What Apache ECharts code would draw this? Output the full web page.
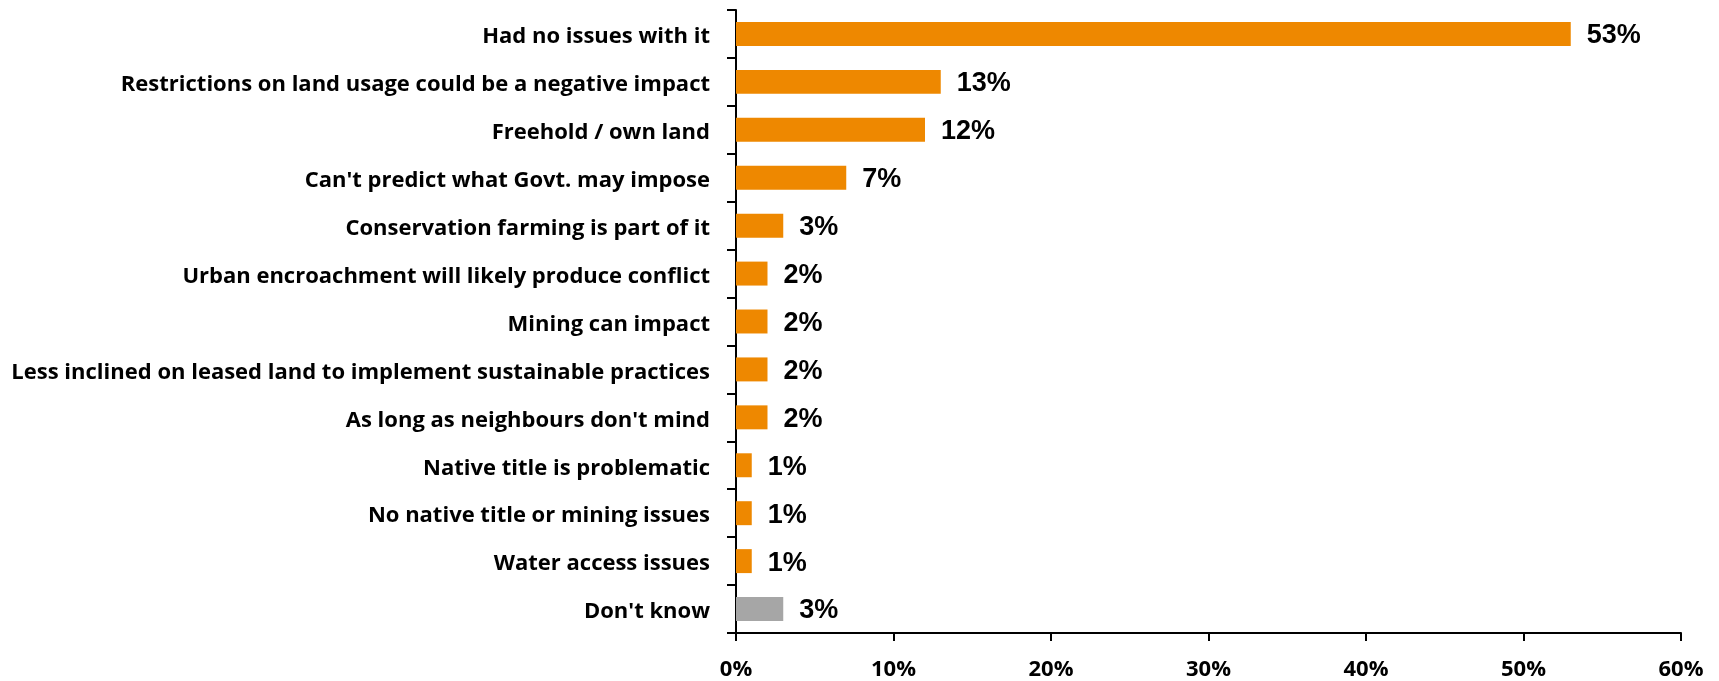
<!DOCTYPE html>
<html>
<head>
<meta charset="utf-8">
<script src="https://cdn.jsdelivr.net/npm/echarts@6/dist/echarts.min.js"></script>
<style>
  html, body { margin: 0; padding: 0; background: #fff; }
  #chart { width: 1719px; height: 681px; }
</style>
</head>
<body>
<div id="chart"></div>
<script>
// Responses, listed top to bottom
const categories = [
  "Had no issues with it",
  "Restrictions on land usage could be a negative impact",
  "Freehold / own land",
  "Can't predict what Govt. may impose",
  "Conservation farming is part of it",
  "Urban encroachment will likely produce conflict",
  "Mining can impact",
  "Less inclined on leased land to implement sustainable practices",
  "As long as neighbours don't mind",
  "Native title is problematic",
  "No native title or mining issues",
  "Water access issues",
  "Don't know"
];
// Share of respondents (%)
const values = [53, 13, 12, 7, 3, 2, 2, 2, 2, 1, 1, 1, 3];
// Which responses are "no answer" style (drawn in grey)
const neutral = [false, false, false, false, false, false, false, false, false, false, false, false, true];
const xTicks = [0, 10, 20, 30, 40, 50, 60];

const ORANGE = '#EE8800';
const GREY = '#A6A6A6';

const chart = echarts.init(document.getElementById('chart'), null, { renderer: 'canvas' });
chart.setOption({
  animation: false,
  grid: { left: 736, right: 38, top: 10, bottom: 46, containLabel: false },
  xAxis: {
    type: 'value',
    min: xTicks[0],
    max: xTicks[xTicks.length - 1],
    interval: 10,
    splitLine: { show: false },
    axisLine: { show: true, lineStyle: { color: '#000', width: 2 } },
    axisTick: { show: true, length: 8, lineStyle: { color: '#000', width: 2 } },
    axisLabel: {
      formatter: v => v + '%',
      color: '#000',
      fontFamily: 'Open Sans',
      fontWeight: 'bold',
      fontSize: 22,
      margin: 26
    }
  },
  yAxis: {
    type: 'category',
    data: categories,
    inverse: true,
    axisLine: { show: true, lineStyle: { color: '#000', width: 2 } },
    axisTick: { show: true, length: 9, lineStyle: { color: '#000', width: 2 } },
    axisLabel: {
      margin: 26,
      formatter: v => '{c|' + v + '}',
      rich: {
        c: {
          color: '#000',
          fontFamily: 'Open Sans',
          fontWeight: 'bold',
          fontSize: 22,
          padding: [6, 0, 0, 0]
        }
      }
    }
  },
  series: [{
    type: 'bar',
    barCategoryGap: '50%',
    data: values.map((v, i) => ({
      value: v,
      itemStyle: { color: neutral[i] ? GREY : ORANGE }
    })),
    label: {
      show: true,
      position: 'right',
      distance: 16,
      offset: [0, 2],
      formatter: p => p.value + '%',
      color: '#000',
      fontFamily: 'Liberation Sans',
      fontWeight: 'bold',
      fontSize: 27
    }
  }]
});
</script>
</body>
</html>
